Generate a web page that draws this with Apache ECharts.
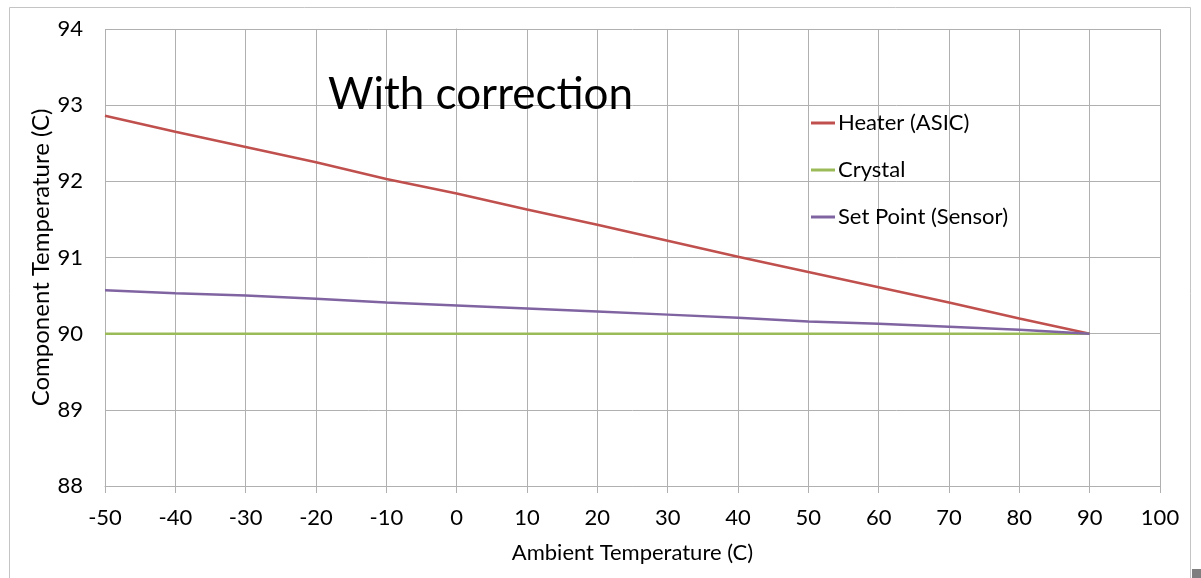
<!DOCTYPE html>
<html>
<head>
<meta charset="utf-8">
<script src="https://cdn.jsdelivr.net/npm/echarts@6/dist/echarts.min.js"></script>
<style>
html,body{margin:0;padding:0;background:#fff;}
#c{width:1201px;height:578px;}
</style>
</head>
<body>
<div id="c"></div>
<script>
const ambient = [-50, -40, -30, -20, -10, 0, 10, 20, 30, 40, 50, 60, 70, 80, 90];
const heater = [92.86, 92.65, 92.45, 92.25, 92.03, 91.84, 91.63, 91.43, 91.22, 91.01, 90.81, 90.61, 90.41, 90.20, 90.00];
const crystal = [90, 90, 90, 90, 90, 90, 90, 90, 90, 90, 90, 90, 90, 90, 90];
const setPoint = [90.57, 90.53, 90.50, 90.46, 90.41, 90.37, 90.33, 90.29, 90.25, 90.21, 90.16, 90.13, 90.09, 90.05, 90.00];
const seriesNames = ['Heater (ASIC)', 'Crystal', 'Set Point (Sensor)'];
const colors = ['#C0504D', '#9BBB59', '#8064A2'];

const FONT = 'Lato';
const pairs = arr => ambient.map((x, i) => [x, arr[i]]);
const gridColor = '#b0b0b0';

const chart = echarts.init(document.getElementById('c'), null, {renderer: 'canvas'});
function legendAt(name, top) {
  return {
    data: [name], left: 811, top: top, padding: 0, icon: 'rect', itemWidth: 24, itemHeight: 3,
    selectedMode: false,
    textStyle: {fontFamily: FONT, fontSize: 22, color: '#000', padding: [0, 0, 0, -2]}
  };
}
chart.setOption({
  animation: false,
  backgroundColor: '#fff',
  color: colors,
  title: {
    text: 'With correction', left: 328, top: 73, padding: 0,
    textStyle: {fontFamily: FONT, fontSize: 44, fontWeight: 'normal', color: '#000'}
  },
  legend: [legendAt(seriesNames[0], 112), legendAt(seriesNames[1], 159), legendAt(seriesNames[2], 206)],
  grid: {left: 105, right: 41, top: 29, bottom: 92, containLabel: false},
  xAxis: {
    type: 'value', min: -50, max: 100, interval: 10,
    name: 'Ambient Temperature (C)', nameLocation: 'middle', nameGap: 56, nameMoveOverlap: false,
    nameTextStyle: {fontFamily: FONT, fontSize: 22, color: '#000'},
    axisLine: {show: true, lineStyle: {color: gridColor, width: 1}},
    axisTick: {show: true, length: 7, lineStyle: {color: gridColor}},
    axisLabel: {fontFamily: FONT, fontSize: 22, color: '#000', margin: 21},
    splitLine: {show: true, lineStyle: {color: gridColor, width: 1}}
  },
  yAxis: {
    type: 'value', min: 88, max: 94, interval: 1,
    name: 'Component Temperature (C)', nameLocation: 'middle', nameGap: 52, nameMoveOverlap: false,
    nameTextStyle: {fontFamily: FONT, fontSize: 24, color: '#000'},
    axisLine: {show: true, lineStyle: {color: gridColor, width: 1}},
    axisTick: {show: true, length: 8, lineStyle: {color: gridColor}},
    axisLabel: {fontFamily: FONT, fontSize: 22, color: '#000', margin: 22},
    splitLine: {show: true, lineStyle: {color: gridColor, width: 1}}
  },
  graphic: [
    {type: 'rect', shape: {x: 9.5, y: 7.5, width: 1181, height: 600}, style: {fill: 'none', stroke: '#c4c4c4', lineWidth: 1}, silent: true, z: -1},
    {type: 'rect', shape: {x: 1192, y: 569, width: 9, height: 9}, style: {fill: '#7f7f7f'}, silent: true}
  ],
  series: [
    {name: seriesNames[0], type: 'line', data: pairs(heater), showSymbol: false, lineStyle: {width: 2.5, color: colors[0]}, itemStyle: {color: colors[0]}},
    {name: seriesNames[1], type: 'line', data: pairs(crystal), showSymbol: false, lineStyle: {width: 2.5, color: colors[1]}, itemStyle: {color: colors[1]}},
    {name: seriesNames[2], type: 'line', data: pairs(setPoint), showSymbol: false, lineStyle: {width: 2.5, color: colors[2]}, itemStyle: {color: colors[2]}}
  ]
});
</script>
</body>
</html>
